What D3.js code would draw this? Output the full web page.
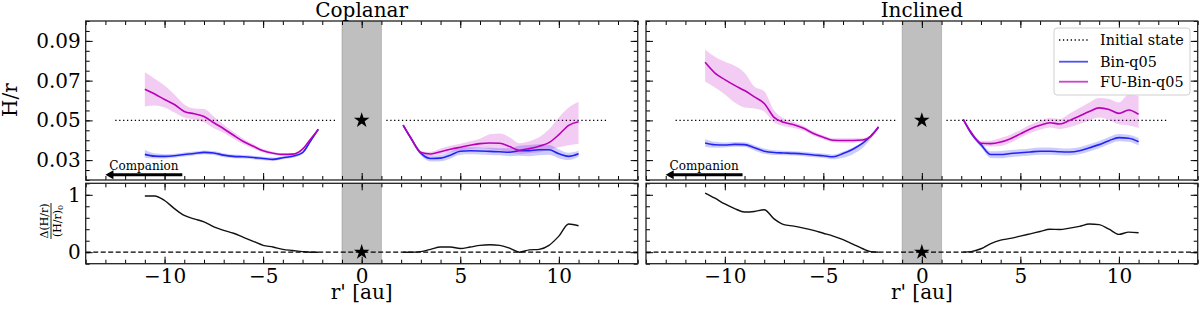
<!DOCTYPE html>
<html><head><meta charset="utf-8">
<script src="https://cdn.jsdelivr.net/npm/d3@7"></script>
<style>body{margin:0;background:#fff} text{font-family:"DejaVu Serif",serif;fill:#000}</style>
</head><body><svg id="c" width="1200" height="310"></svg>
<script>
// ---------------- data ----------------
const xLeft  = [-11,-10.5,-10,-9.5,-9,-8.5,-8,-7.5,-7,-6.5,-6,-5.5,-5,-4.5,-4,-3.5,-3,-2.6,-2.2];
const xRight = [2.1,2.5,3,3.5,4,4.5,5,5.5,6,6.5,7,7.5,8,8.5,9,9.5,10,10.5,11];

// Coplanar
const copBinL   = [0.0329,0.0320,0.0319,0.0322,0.0328,0.0333,0.0339,0.0336,0.0325,0.0319,0.0317,0.0313,0.0308,0.0304,0.0312,0.0320,0.0338,0.0395,0.0455];
const copBinHiL = [0.0352,0.0334,0.0330,0.0332,0.0338,0.0343,0.0349,0.0346,0.0335,0.0328,0.0326,0.0322,0.0317,0.0313,0.0320,0.0328,0.0345,0.0400,0.0459];
const copBinLoL = [0.0312,0.0308,0.0308,0.0312,0.0318,0.0323,0.0329,0.0326,0.0315,0.0310,0.0308,0.0304,0.0299,0.0296,0.0304,0.0312,0.0331,0.0390,0.0451];
const copFuL    = [0.0657,0.0633,0.0605,0.0580,0.0545,0.0533,0.0520,0.0488,0.0458,0.0425,0.0394,0.0370,0.0347,0.0335,0.0329,0.0330,0.0355,0.0405,0.0455];
const copFuHiL  = [0.0742,0.0710,0.0675,0.0630,0.0580,0.0560,0.0557,0.0520,0.0478,0.0442,0.0408,0.0381,0.0356,0.0342,0.0335,0.0335,0.0359,0.0408,0.0458];
const copFuLoL  = [0.0570,0.0575,0.0565,0.0540,0.0515,0.0505,0.0490,0.0460,0.0438,0.0408,0.0380,0.0359,0.0338,0.0328,0.0323,0.0325,0.0351,0.0402,0.0452];
const copBinR   = [0.0476,0.0410,0.0335,0.0308,0.0310,0.0325,0.0345,0.0347,0.0346,0.0344,0.0342,0.0340,0.0347,0.0348,0.0352,0.0352,0.0332,0.0319,0.0332];
const copBinHiR = [0.0480,0.0418,0.0347,0.0323,0.0326,0.0342,0.0363,0.0365,0.0364,0.0362,0.0360,0.0360,0.0372,0.0376,0.0380,0.0377,0.0354,0.0337,0.0347];
const copBinLoR = [0.0472,0.0402,0.0323,0.0293,0.0294,0.0308,0.0327,0.0329,0.0328,0.0326,0.0324,0.0320,0.0322,0.0320,0.0324,0.0327,0.0310,0.0301,0.0317];
const copFuR    = [0.0476,0.0410,0.0338,0.0331,0.0342,0.0355,0.0365,0.0375,0.0383,0.0386,0.0385,0.0368,0.0350,0.0358,0.0370,0.0388,0.0428,0.0475,0.0493];
const copFuHiR  = [0.0481,0.0416,0.0345,0.0342,0.0358,0.0372,0.0383,0.0395,0.0408,0.0430,0.0434,0.0415,0.0385,0.0395,0.0415,0.0455,0.0515,0.0565,0.0594];
const copFuLoR  = [0.0471,0.0404,0.0331,0.0322,0.0328,0.0340,0.0348,0.0356,0.0360,0.0355,0.0350,0.0340,0.0330,0.0335,0.0340,0.0352,0.0365,0.0375,0.0383];
const copDeltaL = [0.98,0.98,0.90,0.76,0.64,0.58,0.53,0.44,0.38,0.33,0.26,0.19,0.12,0.09,0.05,0.03,0.01,0.0,0.0];
const copDeltaR = [0,0,0.01,0.05,0.09,0.09,0.065,0.09,0.12,0.13,0.12,0.07,0.0,0.04,0.05,0.12,0.28,0.49,0.46];

// Inclined
const incBinL   = [0.0386,0.0377,0.0376,0.0379,0.0378,0.0362,0.0345,0.0338,0.0336,0.0334,0.0331,0.0326,0.0322,0.0317,0.0333,0.0355,0.0385,0.0420,0.0465];
const incBinHiL = [0.0405,0.0392,0.0389,0.0391,0.0390,0.0375,0.0358,0.0350,0.0347,0.0345,0.0342,0.0337,0.0333,0.0328,0.0343,0.0364,0.0392,0.0425,0.0469];
const incBinLoL = [0.0367,0.0362,0.0363,0.0367,0.0366,0.0349,0.0332,0.0326,0.0325,0.0323,0.0320,0.0315,0.0311,0.0304,0.0312,0.0330,0.0362,0.0405,0.0458];
const incFuL    = [0.0792,0.0738,0.0705,0.0676,0.0650,0.0618,0.0585,0.0515,0.0490,0.0478,0.0460,0.0434,0.0415,0.0400,0.0399,0.0399,0.0401,0.0420,0.0468];
const incFuHiL  = [0.0857,0.0820,0.0795,0.0775,0.0740,0.0670,0.0646,0.0550,0.0510,0.0492,0.0472,0.0445,0.0425,0.0410,0.0410,0.0410,0.0410,0.0428,0.0473];
const incFuLoL  = [0.0696,0.0665,0.0630,0.0590,0.0565,0.0560,0.0545,0.0490,0.0470,0.0462,0.0448,0.0423,0.0405,0.0390,0.0388,0.0388,0.0392,0.0412,0.0463];
const incBinR   = [0.0505,0.0435,0.0378,0.0328,0.0328,0.0333,0.0337,0.0341,0.0345,0.0345,0.0342,0.0341,0.0347,0.0362,0.0378,0.0398,0.0413,0.0410,0.0392];
const incBinHiR = [0.0508,0.0443,0.0390,0.0345,0.0346,0.0351,0.0355,0.0359,0.0363,0.0363,0.0360,0.0359,0.0365,0.0380,0.0396,0.0416,0.0431,0.0428,0.0411];
const incBinLoR = [0.0502,0.0427,0.0366,0.0311,0.0310,0.0315,0.0319,0.0323,0.0327,0.0327,0.0324,0.0323,0.0329,0.0344,0.0360,0.0380,0.0395,0.0392,0.0373];
const incFuR    = [0.0505,0.0440,0.0385,0.0383,0.0391,0.0408,0.0432,0.0457,0.0475,0.0488,0.0482,0.0500,0.0522,0.0545,0.0563,0.0555,0.0535,0.0552,0.0530];
const incFuHiR  = [0.0508,0.0448,0.0397,0.0398,0.0411,0.0428,0.0452,0.0478,0.0497,0.0512,0.0507,0.0535,0.0562,0.0590,0.0612,0.0608,0.0590,0.0630,0.0623];
const incFuLoR  = [0.0502,0.0432,0.0373,0.0368,0.0371,0.0388,0.0412,0.0436,0.0453,0.0464,0.0457,0.0465,0.0482,0.0500,0.0514,0.0502,0.0480,0.0474,0.0462];
const incDeltaL = [1.03,0.94,0.84,0.76,0.70,0.71,0.74,0.58,0.48,0.455,0.42,0.38,0.33,0.28,0.22,0.14,0.06,0.01,0.0];
const incDeltaR = [0,0.01,0.06,0.15,0.21,0.24,0.28,0.32,0.36,0.40,0.395,0.42,0.45,0.49,0.48,0.40,0.31,0.35,0.34];

const titles = ["Coplanar","Inclined"];
const legendLabels = ["Initial state","Bin-q05","FU-Bin-q05"];
const initialValue = 0.05;
const initialSpans = [[-12.5,-1.25],[1.25,12.5]];
const starBand = [-1, 1];
const xDomain = [-14, 14];
const yTopDomain = [0.02, 0.1];
const yBotDomain = [-0.2, 1.2];
const xMajor = [-10,-5,0,5,10];
const xMinor = d3.range(-14, 15, 1);
const yTopMajor = [0.03,0.05,0.07,0.09];
const yTopMinor = d3.range(0, 17).map(i => 0.02 + i*0.005);
const yBotMajor = [0, 1];
const yBotMinor = d3.range(0, 8).map(i => -0.2 + i*0.2);
const companionFrom = -9.1, companionTo = -13.0, companionY = 0.0227, companionTextX = -11.05;

// ---------------- drawing ----------------
const svg = d3.select("#c");
const BLUE = "#2424f2", MAG = "#b800b8";
const BLUE_L = "#5050f5", MAG_L = "#cc44cc";

const panels = [
  {left:85.7, right:637.7, labels:true,
   bin:[[copBinL,copBinLoL,copBinHiL],[copBinR,copBinLoR,copBinHiR]],
   fu:[[copFuL,copFuLoL,copFuHiL],[copFuR,copFuLoR,copFuHiR]],
   delta:[copDeltaL,copDeltaR]},
  {left:646, right:1197.7, labels:false,
   bin:[[incBinL,incBinLoL,incBinHiL],[incBinR,incBinLoR,incBinHiR]],
   fu:[[incFuL,incFuLoL,incFuHiL],[incFuR,incFuLoR,incFuHiR]],
   delta:[incDeltaL,incDeltaR]}
];
const topY = [180, 21], botY = [263.7, 183.3];

function drawAxes(g, x, y, yMajor, yMinor, yFmt, showX, showY) {
  const [yb, yt] = y.range();
  const [xl, xr] = x.range();
  const sty = s => { s.select(".domain").remove(); s.selectAll("line").attr("stroke","#000").attr("stroke-width",1);
    s.selectAll("text").attr("font-family","DejaVu Serif").attr("font-size",20).attr("fill","#000"); };
  g.append("g").attr("transform",`translate(0,${yb})`).call(d3.axisBottom(x).tickValues(xMinor).tickSize(-4).tickFormat("")).call(sty);
  g.append("g").attr("transform",`translate(0,${yb})`).call(d3.axisBottom(x).tickValues(xMajor).tickSize(-7).tickPadding(5.5).tickFormat(showX ? d3.format("d") : "")).call(sty);
  g.append("g").attr("transform",`translate(0,${yt})`).call(d3.axisTop(x).tickValues(xMinor).tickSize(-4).tickFormat("")).call(sty);
  g.append("g").attr("transform",`translate(0,${yt})`).call(d3.axisTop(x).tickValues(xMajor).tickSize(-7).tickFormat("")).call(sty);
  g.append("g").attr("transform",`translate(${xl},0)`).call(d3.axisLeft(y).tickValues(yMinor).tickSize(-4).tickFormat("")).call(sty);
  g.append("g").attr("transform",`translate(${xl},0)`).call(d3.axisLeft(y).tickValues(yMajor).tickSize(-7).tickPadding(5).tickFormat(showY ? yFmt : "")).call(sty);
  g.append("g").attr("transform",`translate(${xr},0)`).call(d3.axisRight(y).tickValues(yMinor).tickSize(-4).tickFormat("")).call(sty);
  g.append("g").attr("transform",`translate(${xr},0)`).call(d3.axisRight(y).tickValues(yMajor).tickSize(-7).tickFormat("")).call(sty);
  g.append("rect").attr("x",xl).attr("y",yt).attr("width",xr-xl).attr("height",yb-yt)
    .attr("fill","none").attr("stroke","#222").attr("stroke-width",1.3);
}

const star = d3.symbol().type(d3.symbolStar).size(75);

panels.forEach((p, pi) => {
  const x = d3.scaleLinear().domain(xDomain).range([p.left, p.right]);
  const yT = d3.scaleLinear().domain(yTopDomain).range(topY);
  const yB = d3.scaleLinear().domain(yBotDomain).range(botY);
  const xs = [xLeft, xRight];

  // ---- top panel ----
  const gT = svg.append("g");
  gT.append("rect").attr("x",x(starBand[0])).attr("y",topY[1]).attr("width",x(starBand[1])-x(starBand[0]))
    .attr("height",topY[0]-topY[1]).attr("fill","#808080").attr("fill-opacity",0.5)
    .attr("stroke","#808080").attr("stroke-opacity",0.4).attr("stroke-width",1);
  initialSpans.forEach(s => {
    gT.append("line").attr("x1",x(s[0])).attr("x2",x(s[1])).attr("y1",yT(initialValue)).attr("y2",yT(initialValue))
      .attr("stroke","#000").attr("stroke-width",1.3).attr("stroke-dasharray","1.3,2.6");
  });
  const area = (xa, lo, hi) => d3.area().x((d,i)=>x(xa[i])).y0((d,i)=>yT(lo[i])).y1((d,i)=>yT(hi[i])).curve(d3.curveMonotoneX)(xa);
  const line = (xa, v, ys) => d3.line().x((d,i)=>x(xa[i])).y((d,i)=>ys(v[i])).curve(d3.curveMonotoneX)(xa);
  [0,1].forEach(s => {
    gT.append("path").attr("d", area(xs[s], p.bin[s][1], p.bin[s][2])).attr("fill","#0000ff").attr("fill-opacity",0.2);
    gT.append("path").attr("d", area(xs[s], p.fu[s][1], p.fu[s][2])).attr("fill","#bf00bf").attr("fill-opacity",0.2);
  });
  [0,1].forEach(s => {
    gT.append("path").attr("d", line(xs[s], p.bin[s][0], yT)).attr("fill","none").attr("stroke",BLUE).attr("stroke-width",1.6);
    gT.append("path").attr("d", line(xs[s], p.fu[s][0], yT)).attr("fill","none").attr("stroke",MAG).attr("stroke-width",1.6);
  });
  gT.append("path").attr("d", star()).attr("transform",`translate(${x(0)},${yT(initialValue)})`).attr("fill","#000");
  // companion arrow
  const ay = yT(companionY);
  gT.append("line").attr("x1",x(companionFrom)).attr("x2",x(companionTo)+7).attr("y1",ay).attr("y2",ay)
    .attr("stroke","#000").attr("stroke-width",3);
  gT.append("path").attr("d",`M${x(companionTo)},${ay} L${x(companionTo)+8},${ay-4.5} L${x(companionTo)+8},${ay+4.5} Z`).attr("fill","#000");
  gT.append("text").attr("x",x(companionTextX)).attr("y",170).attr("text-anchor","middle").attr("font-size",12).text("Companion");
  drawAxes(gT, x, yT, yTopMajor, yTopMinor, d3.format(".2f"), false, p.labels);

  // title
  svg.append("text").attr("x",(p.left+p.right)/2).attr("y",17).attr("text-anchor","middle").attr("font-size",20).text(titles[pi]);

  // ---- bottom panel ----
  const gB = svg.append("g");
  gB.append("rect").attr("x",x(starBand[0])).attr("y",botY[1]).attr("width",x(starBand[1])-x(starBand[0]))
    .attr("height",botY[0]-botY[1]).attr("fill","#808080").attr("fill-opacity",0.5)
    .attr("stroke","#808080").attr("stroke-opacity",0.4).attr("stroke-width",1);
  gB.append("line").attr("x1",p.left).attr("x2",p.right).attr("y1",yB(0)).attr("y2",yB(0))
    .attr("stroke","#000").attr("stroke-width",1.3).attr("stroke-dasharray","5,2.5");
  [0,1].forEach(s => {
    gB.append("path").attr("d", line(xs[s], p.delta[s], yB)).attr("fill","none").attr("stroke","#111").attr("stroke-width",1.4);
  });
  gB.append("path").attr("d", star()).attr("transform",`translate(${x(0)},${yB(0)})`).attr("fill","#000");
  drawAxes(gB, x, yB, yBotMajor, yBotMinor, d3.format("d"), true, p.labels);

  svg.append("text").attr("x",(p.left+p.right)/2).attr("y",299).attr("text-anchor","middle").attr("font-size",20).text("r' [au]");
});

// y labels
svg.append("text").attr("transform","translate(17,100) rotate(-90)").attr("text-anchor","middle").attr("font-size",20).text("H/r");
const fr = svg.append("g").attr("transform","translate(51,221) rotate(-90)");
fr.append("text").attr("x",0).attr("y",-2.8).attr("text-anchor","middle").attr("font-family","DejaVu Sans").attr("font-size",11).text("Δ(H/r)");
fr.append("line").attr("x1",-18).attr("x2",18).attr("y1",0).attr("y2",0).attr("stroke","#000").attr("stroke-width",0.9);
const den = fr.append("text").attr("x",0).attr("y",10).attr("text-anchor","middle").attr("font-family","DejaVu Sans").attr("font-size",11);
den.append("tspan").text("(H/r)");
den.append("tspan").attr("font-size",8).attr("dy",2).text("0");

// legend
const lg = svg.append("g");
lg.append("rect").attr("x",1054).attr("y",28).attr("width",136).attr("height",67).attr("rx",3)
  .attr("fill","#fff").attr("fill-opacity",0.85).attr("stroke","#d0d0d0").attr("stroke-width",1);
const legendStyles = [
  {stroke:"#000", dash:"1.3,2.6"}, {stroke:BLUE_L, dash:null}, {stroke:MAG_L, dash:null}
];
const legendY = [40, 61.7, 81.7];
legendLabels.forEach((l, i) => {
  const ln = lg.append("line").attr("x1",1059).attr("x2",1088).attr("y1",legendY[i]).attr("y2",legendY[i])
    .attr("stroke",legendStyles[i].stroke).attr("stroke-width",i===0?1.3:1.8);
  if (legendStyles[i].dash) ln.attr("stroke-dasharray",legendStyles[i].dash);
  lg.append("text").attr("x",1100).attr("y",legendY[i]).attr("dy","0.36em").attr("font-size",14.4).text(l);
});
</script></body></html>
